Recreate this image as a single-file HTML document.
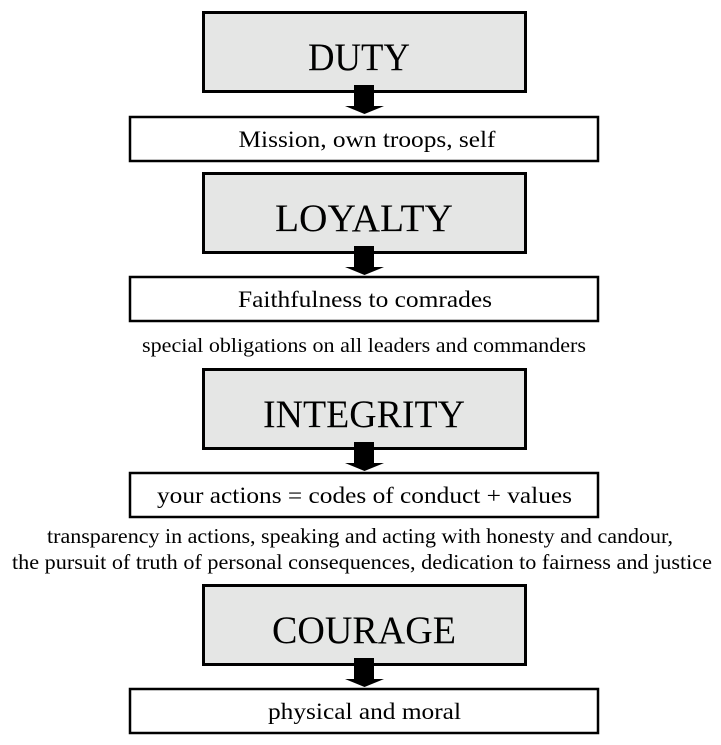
<!DOCTYPE html>
<html><head><meta charset="utf-8"><style>html,body{margin:0;padding:0;background:#fff}svg{display:block}text{font-family:"Liberation Serif",serif}</style></head><body>
<svg width="721" height="745" viewBox="0 0 721 745" xmlns="http://www.w3.org/2000/svg" fill="#000">
<defs>
<g id="arr"><rect x="354" y="-8" width="20" height="22"/><polygon points="345,13 384,13 364.5,21"/></g>
</defs>
<rect x="203.5" y="12.5" width="322" height="79" fill="#e5e6e5" stroke="#000" stroke-width="3"/>
<text x="359" y="70" font-size="39" text-anchor="middle" textLength="102" lengthAdjust="spacingAndGlyphs">DUTY</text>
<use href="#arr" transform="translate(0,93)"/>
<rect x="130" y="117" width="468" height="44" fill="#fff" stroke="#000" stroke-width="2.5"/>
<text x="367" y="147" font-size="23" text-anchor="middle" textLength="257" lengthAdjust="spacingAndGlyphs">Mission, own troops, self</text>
<rect x="203.5" y="173.5" width="322" height="79" fill="#e5e6e5" stroke="#000" stroke-width="3"/>
<text x="364" y="231" font-size="39" text-anchor="middle" textLength="178" lengthAdjust="spacingAndGlyphs">LOYALTY</text>
<use href="#arr" transform="translate(0,254)"/>
<rect x="130" y="277" width="468" height="44" fill="#fff" stroke="#000" stroke-width="2.5"/>
<text x="365" y="307" font-size="23" text-anchor="middle" textLength="254" lengthAdjust="spacingAndGlyphs">Faithfulness to comrades</text>
<text x="364" y="352" font-size="20" text-anchor="middle" textLength="444" lengthAdjust="spacingAndGlyphs">special obligations on all leaders and commanders</text>
<rect x="203.5" y="369.5" width="322" height="79" fill="#e5e6e5" stroke="#000" stroke-width="3"/>
<text x="364" y="427" font-size="39" text-anchor="middle" textLength="202" lengthAdjust="spacingAndGlyphs">INTEGRITY</text>
<use href="#arr" transform="translate(0,450)"/>
<rect x="130" y="473" width="468" height="44" fill="#fff" stroke="#000" stroke-width="2.5"/>
<text x="364.5" y="503" font-size="23" text-anchor="middle" textLength="415" lengthAdjust="spacingAndGlyphs">your actions = codes of conduct + values</text>
<text x="360" y="543" font-size="21" text-anchor="middle" textLength="626" lengthAdjust="spacingAndGlyphs">transparency in actions, speaking and acting with honesty and candour,</text>
<text x="362" y="569" font-size="21" text-anchor="middle" textLength="700" lengthAdjust="spacingAndGlyphs">the pursuit of truth of personal consequences, dedication to fairness and justice</text>
<rect x="203.5" y="585.5" width="322" height="79" fill="#e5e6e5" stroke="#000" stroke-width="3"/>
<text x="364" y="643" font-size="39" text-anchor="middle" textLength="184" lengthAdjust="spacingAndGlyphs">COURAGE</text>
<use href="#arr" transform="translate(0,666)"/>
<rect x="130" y="689" width="468" height="44" fill="#fff" stroke="#000" stroke-width="2.5"/>
<text x="364.5" y="719" font-size="23" text-anchor="middle" textLength="193" lengthAdjust="spacingAndGlyphs">physical and moral</text>
</svg>
</body></html>
